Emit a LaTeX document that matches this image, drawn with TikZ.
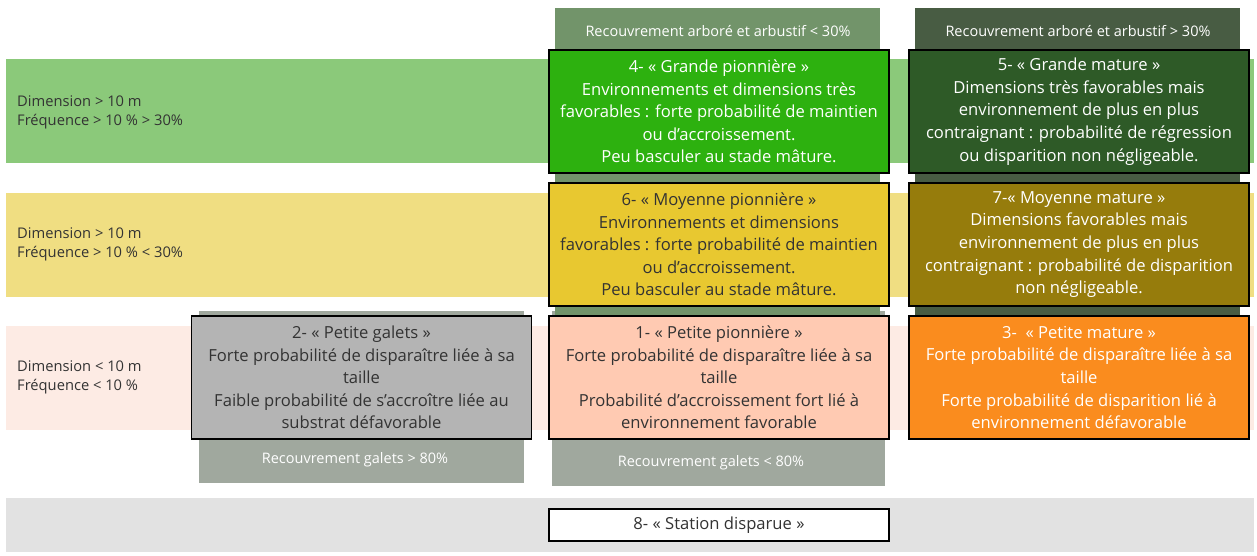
\documentclass[tikz,border=0pt]{standalone}
\usepackage{fontspec}
\setmainfont{Open Sans}

\definecolor{bandgreen}{HTML}{8BC97A}
\definecolor{bandyellow}{HTML}{F0DE82}
\definecolor{bandpink}{HTML}{FDEBE4}
\definecolor{bandgrey}{HTML}{E2E2E2}
\definecolor{headlow}{HTML}{72946A}
\definecolor{headhigh}{HTML}{485C43}
\definecolor{galets}{HTML}{A0A89E}
\definecolor{grandepion}{HTML}{2DB10F}
\definecolor{grandemat}{HTML}{2E5A27}
\definecolor{moyennepion}{HTML}{E8C830}
\definecolor{moyennemat}{HTML}{967C0C}
\definecolor{petitegal}{HTML}{B4B4B4}
\definecolor{petitepion}{HTML}{FFCAB2}
\definecolor{petitemat}{HTML}{FA8C1E}
\definecolor{txtdark}{HTML}{333333}

\begin{document}
\begin{tikzpicture}[x=1pt, y=-1pt,
    state/.style={draw=black, line width=1.2pt, minimum width=340pt, minimum height=123pt,
      inner sep=0pt, align=center, font=\fontsize{16.6}{22.6}\selectfont},
    rowlabel/.style={anchor=west, align=left, inner sep=0pt, text=txtdark, font=\fontsize{14.7}{19}\selectfont},
    bandlabel/.style={text=white, font=\fontsize{14.5}{16}\selectfont}]

  \useasboundingbox (0,0) rectangle (1257,556);

  \fill[bandgreen] (6,59) rectangle (1254,163);
  \fill[bandyellow] (6,193) rectangle (1254,297);
  \fill[bandpink] (6,326) rectangle (1254,430);
  \fill[bandgrey] (6,498) rectangle (1254,552);

  \fill[galets] (199,311) rectangle (524,483);
  \fill[galets] (552,311) rectangle (885,486);
  \fill[headlow] (555,8) rectangle (880,316);
  \fill[headhigh] (915,8) rectangle (1240,316);

  \node[bandlabel] (arblow) at (718,31) {Recouvrement arboré et arbustif < 30\%};
  \node[bandlabel] (arbhigh) at (1078,31) {Recouvrement arboré et arbustif > 30\%};
  \node[bandlabel] (galhigh) at (355,460) {Recouvrement galets > 80\%};
  \node[bandlabel] (gallow) at (711,463) {Recouvrement galets < 80\%};

  \node[rowlabel] (rowgrande) at (17,112) {Dimension > 10 m\\Fréquence > 10 \% > 30\%};
  \node[rowlabel] (rowmoyenne) at (17,244.5) {Dimension > 10 m\\Fréquence > 10 \% < 30\%};
  \node[rowlabel] (rowpetite) at (17,377) {Dimension < 10 m\\Fréquence < 10 \%};

  \node[state, fill=grandepion, text=white] (s4) at (719,111.5)
    {4- « Grande pionnière »\\Environnements et dimensions très\\favorables : forte probabilité de maintien\\ou d’accroissement.\\Peu basculer au stade mâture.};
  \node[state, fill=grandemat, text=white] (s5) at (1079,111.5)
    {5- « Grande mature »\\Dimensions très favorables mais\\environnement de plus en plus\\contraignant : probabilité de régression\\ou disparition non négligeable.};
  \node[state, fill=moyennepion, text=txtdark] (s6) at (719,244.5)
    {6- « Moyenne pionnière »\\Environnements et dimensions\\favorables : forte probabilité de maintien\\ou d’accroissement.\\Peu basculer au stade mâture.};
  \node[state, fill=moyennemat, text=white] (s7) at (1079,244.5)
    {7-« Moyenne mature »\\Dimensions favorables mais\\environnement de plus en plus\\contraignant : probabilité de disparition\\non négligeable.};
  \node[state, fill=petitegal, text=txtdark] (s2) at (361.5,377.5)
    {2- « Petite galets »\\Forte probabilité de disparaître liée à sa\\taille\\Faible probabilité de s’accroître liée au\\substrat défavorable};
  \node[state, fill=petitepion, text=txtdark] (s1) at (719,377.5)
    {1- « Petite pionnière »\\Forte probabilité de disparaître liée à sa\\taille\\Probabilité d’accroissement fort lié à\\environnement favorable};
  \node[state, fill=petitemat, text=white] (s3) at (1079,377.5)
    {3-~ « Petite mature »\\Forte probabilité de disparaître liée à sa\\taille\\Forte probabilité de disparition lié à\\environnement défavorable};
  \node[state, fill=white, text=txtdark, minimum height=32pt] (s8) at (719,525)
    {8- « Station disparue »};

\end{tikzpicture}
\end{document}
